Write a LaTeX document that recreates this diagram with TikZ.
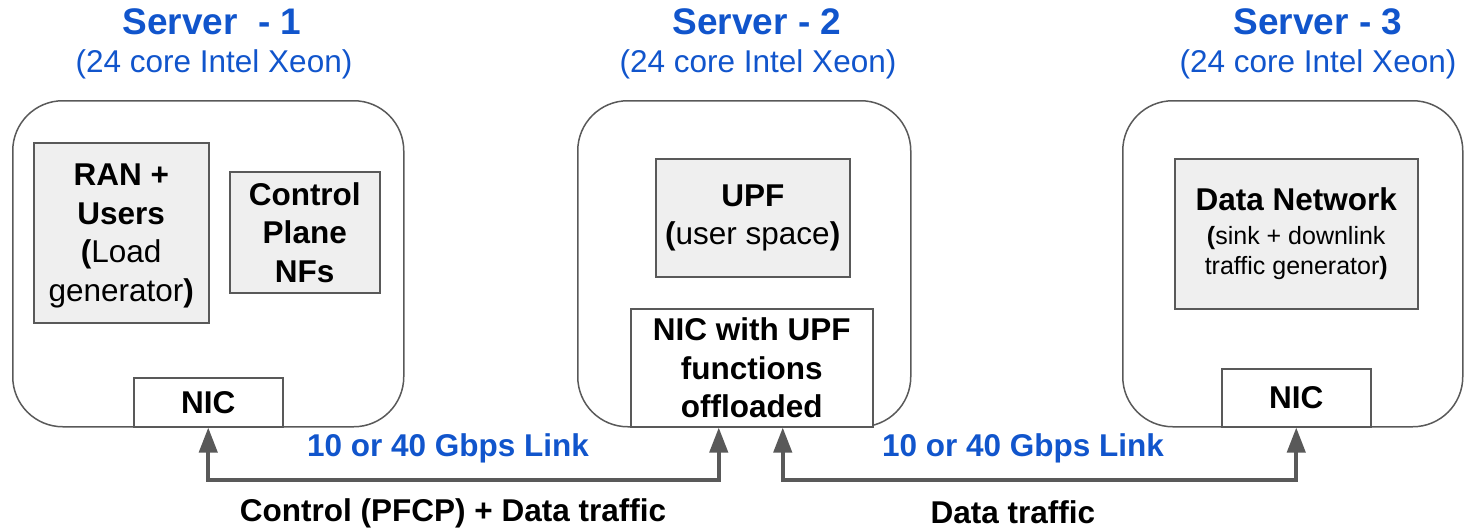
\documentclass[tikz,border=0pt]{standalone}
\usepackage{fontspec}
\setmainfont{Liberation Sans}
\usetikzlibrary{arrows.meta}
\definecolor{gblue}{HTML}{1155CC}
\definecolor{edgegray}{HTML}{595959}
\definecolor{boxfill}{HTML}{EFEFEF}
\newcommand\fttl{\fontsize{37}{44}\selectfont\bfseries}
\newcommand\fsub{\fontsize{31.5}{38}\selectfont}
\newcommand\fbig{\fontsize{31.5}{38.5}\selectfont}
\newcommand\fsml{\fontsize{25}{30}\selectfont}
\tikzset{
  serverbox/.style={draw=edgegray, line width=1.5pt, rounded corners=50pt, anchor=north west, inner sep=0pt},
  innerbox/.style={draw=edgegray, line width=1.5pt, fill=boxfill, anchor=north west, inner sep=0pt, align=center, font=\fbig},
  nicbox/.style={draw=edgegray, line width=1.5pt, fill=white, anchor=north west, inner sep=0pt, align=center, font=\fbig\bfseries},
  ttl/.style={text=gblue, font=\fttl, inner sep=0pt},
  sub/.style={text=gblue, font=\fsub, inner sep=0pt},
  linklbl/.style={text=gblue, font=\fbig\bfseries, inner sep=0pt},
  trafficlbl/.style={text=black, font=\fbig\bfseries, inner sep=0pt},
  link/.style={draw=edgegray, line width=4pt, arrows={Triangle[width=18pt,length=25pt]-Triangle[width=18pt,length=25pt]}},
}
\begin{document}
\begin{tikzpicture}[x=1pt,y=-1pt]
\useasboundingbox (0,0) rectangle (1464,530);
% titles
\node[ttl] (t1) at (212,22) {Server\ \ - 1};
\node[sub] (s1) at (214,64) {(24 core Intel Xeon)};
\node[ttl] (t2) at (757,22) {Server - 2};
\node[sub] (s2) at (758,64) {(24 core Intel Xeon)};
\node[ttl] (t3) at (1318,22) {Server - 3};
\node[sub] (s3) at (1318,64) {(24 core Intel Xeon)};
% servers
\node[serverbox, minimum width=391pt, minimum height=326pt] (srv1) at (12,100) {};
\node[serverbox, minimum width=333pt, minimum height=326pt] (srv2) at (577,100) {};
\node[serverbox, minimum width=340pt, minimum height=326pt] (srv3) at (1122,100) {};
% inner boxes
\node[innerbox, minimum width=175pt, minimum height=180pt, text depth=-6pt] (ran) at (33,142)
  {\textbf{RAN +}\\\textbf{Users}\\\textbf{(}Load\\generator\textbf{)}};
\node[innerbox, minimum width=150pt, minimum height=121pt] (cp) at (229,171)
  {\textbf{Control}\\\textbf{Plane}\\\textbf{NFs}};
\node[innerbox, minimum width=194pt, minimum height=118pt] (upf) at (655,158)
  {\textbf{UPF}\\\textbf{(}user space\textbf{)}};
\node[innerbox, minimum width=243pt, minimum height=150pt] (dn) at (1174,158)
  {\textbf{Data Network}\\[-5pt]{\fsml\textbf{(}sink + downlink}\\[-8pt]{\fsml traffic generator\textbf{)}}};
% NICs
\node[nicbox, minimum width=149pt, minimum height=49pt] (nic1) at (133,377) {NIC};
\node[nicbox, minimum width=242pt, minimum height=118pt] (nic2) at (630,308) {NIC with UPF\\functions\\offloaded};
\node[nicbox, minimum width=149pt, minimum height=58pt] (nic3) at (1221,368) {NIC};
% links
\draw[link] (nic1.south) -- ++(0,52) -| ([xshift=-33pt]nic2.south);
\draw[link] ([xshift=31pt]nic2.south) -- ++(0,52) -| (nic3.south);
\node[linklbl] (l1) at (448,448) {10 or 40 Gbps Link};
\node[linklbl] (l2) at (1023,448) {10 or 40 Gbps Link};
\node[trafficlbl] (c1) at (453,513) {Control (PFCP) + Data traffic};
\node[trafficlbl] (c2) at (1013,512) {Data traffic};
\end{tikzpicture}
\end{document}
